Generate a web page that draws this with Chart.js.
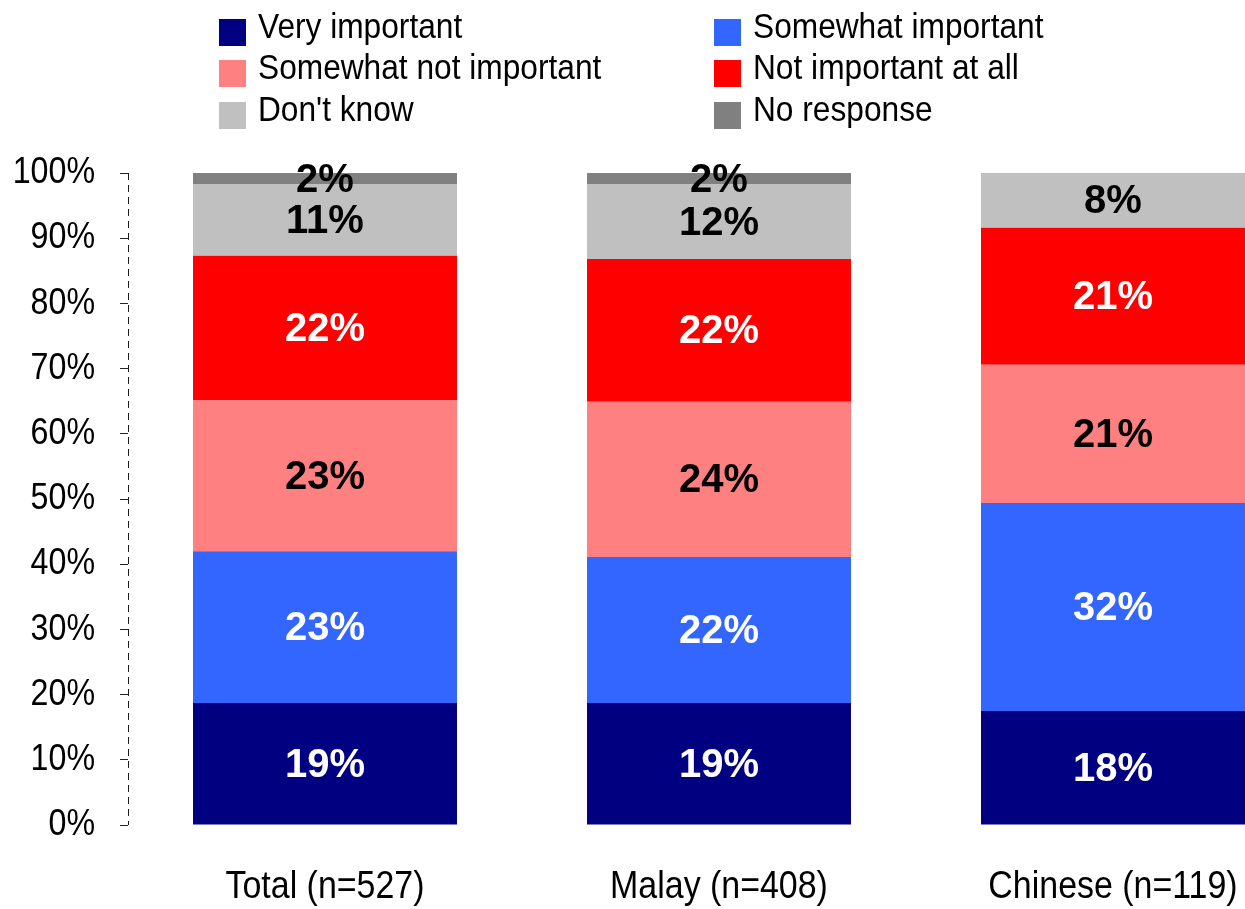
<!DOCTYPE html>
<html>
<head>
<meta charset="utf-8">
<script src="https://cdn.jsdelivr.net/npm/chart.js@4.4.1/dist/chart.umd.min.js"></script>
<style>
html,body{margin:0;padding:0;overflow:hidden;background:#fff;width:1245px;height:909px;}
#wrap{width:1310px;height:909px;position:relative;}
</style>
</head>
<body>
<div id="wrap"><canvas id="c" width="1310" height="909"></canvas></div>
<script>
const categories = ['Total (n=527)', 'Malay (n=408)', 'Chinese (n=119)'];
const seriesNames = ['Very important', 'Somewhat important', 'Somewhat not important', 'Not important at all', "Don't know", 'No response'];
const veryImportant = [18.7, 18.7, 17.5];
const somewhatImportant = [23.3, 22.4, 31.9];
const somewhatNotImportant = [23.2, 23.8, 21.2];
const notImportantAtAll = [22.1, 21.9, 21.0];
const dontKnow = [11.0, 11.5, 8.4];
const noResponse = [1.7, 1.7, 0];
const yTicks = [0, 10, 20, 30, 40, 50, 60, 70, 80, 90, 100];

const colors = ['#000080', '#3366FF', '#FF8080', '#FF0000', '#C0C0C0', '#808080'];
const labelColors = ['#FFFFFF', '#FFFFFF', '#000000', '#FFFFFF', '#000000', '#000000'];
const allSeries = [veryImportant, somewhatImportant, somewhatNotImportant, notImportantAtAll, dontKnow, noResponse];

const SANS = "'Liberation Sans', Arial, sans-serif";
const AXIS_CONDENSE = 0.87;

// Render axis text in a condensed (narrow) style
const condensedAxisText = {
  id: 'condensedAxisText',
  beforeDraw(chart) {
    const ctx = chart.ctx;
    const orig = CanvasRenderingContext2D.prototype.fillText;
    ctx.fillText = function (t, x, y) {
      this.save();
      this.translate(x, y);
      this.scale(AXIS_CONDENSE, 1);
      orig.call(this, t, 0, 0);
      this.restore();
    };
  },
  beforeDatasetsDraw(chart) {
    delete chart.ctx.fillText;
  }
};

// Dashed y-axis line along the y scale's edge
const dashedAxis = {
  id: 'dashedAxis',
  beforeDatasetsDraw(chart) {
    const s = chart.scales.y;
    const ctx = chart.ctx;
    const x = Math.round(s.right) + 0.5;
    ctx.save();
    ctx.strokeStyle = '#1a1a1a';
    ctx.lineWidth = 1;
    ctx.setLineDash([7, 5]);
    ctx.beginPath();
    ctx.moveTo(x, s.getPixelForValue(100));
    ctx.lineTo(x, s.getPixelForValue(0));
    ctx.stroke();
    ctx.restore();
  }
};

const barLabels = {
  id: 'barLabels',
  afterDatasetsDraw(chart) {
    const ctx = chart.ctx;
    ctx.save();
    ctx.font = "bold 40px " + SANS;
    ctx.textAlign = 'center';
    ctx.textBaseline = 'middle';
    chart.data.datasets.forEach((ds, i) => {
      const meta = chart.getDatasetMeta(i);
      meta.data.forEach((el, j) => {
        const v = ds.data[j];
        if (!v) return;
        ctx.fillStyle = labelColors[i];
        ctx.fillText(Math.round(v) + '%', el.x, (el.y + el.base) / 2 + 2);
      });
    });
    ctx.restore();
  }
};

const legendBoxes = {
  id: 'legendBoxes',
  afterDraw(chart) {
    const ctx = chart.ctx;
    ctx.save();
    ctx.font = "35px " + SANS;
    ctx.textBaseline = 'middle';
    ctx.textAlign = 'left';
    const colX = [219, 714];
    const rowY = [32, 73, 115];
    chart.data.datasets.forEach((ds, i) => {
      const col = i % 2, row = Math.floor(i / 2);
      const x = colX[col], y = rowY[row];
      ctx.fillStyle = ds.backgroundColor;
      ctx.fillRect(x, y - 13, 27, 27);
      ctx.fillStyle = '#000';
      ctx.save();
      ctx.translate(x + 39, y - 4);
      ctx.scale(0.905, 1);
      ctx.fillText(ds.label, 0, 0);
      ctx.restore();
    });
    ctx.restore();
  }
};

new Chart(document.getElementById('c'), {
  type: 'bar',
  data: {
    labels: categories,
    datasets: seriesNames.map((n, i) => ({
      label: n,
      data: allSeries[i],
      backgroundColor: colors[i],
      borderWidth: 0,
      categoryPercentage: 1,
      barPercentage: 0.67
    }))
  },
  options: {
    responsive: false,
    animation: false,
    events: [],
    layout: { padding: { top: 173, left: 0, right: 0, bottom: 0 } },
    plugins: { legend: { display: false }, tooltip: { enabled: false } },
    scales: {
      x: {
        stacked: true,
        grid: { display: false },
        border: { display: false },
        ticks: { color: '#000', font: { family: SANS, size: 39 }, padding: 31, maxRotation: 0, autoSkip: false },
        afterFit(s) { s.height = 84; }
      },
      y: {
        stacked: true,
        min: 0, max: 100,
        afterBuildTicks(s) { s.ticks = yTicks.map(v => ({ value: v })); },
        grid: { drawOnChartArea: false, drawTicks: true, tickLength: 13, color: '#222', tickBorderDash: [8, 5], tickBorderDashOffset: 8 },
        border: { display: false },
        ticks: { color: '#000', font: { family: SANS, size: 37 }, padding: 20, callback: v => v + '%' },
        afterFit(s) { s.width = 128; }
      }
    }
  },
  plugins: [condensedAxisText, dashedAxis, barLabels, legendBoxes]
});
</script>
</body>
</html>
